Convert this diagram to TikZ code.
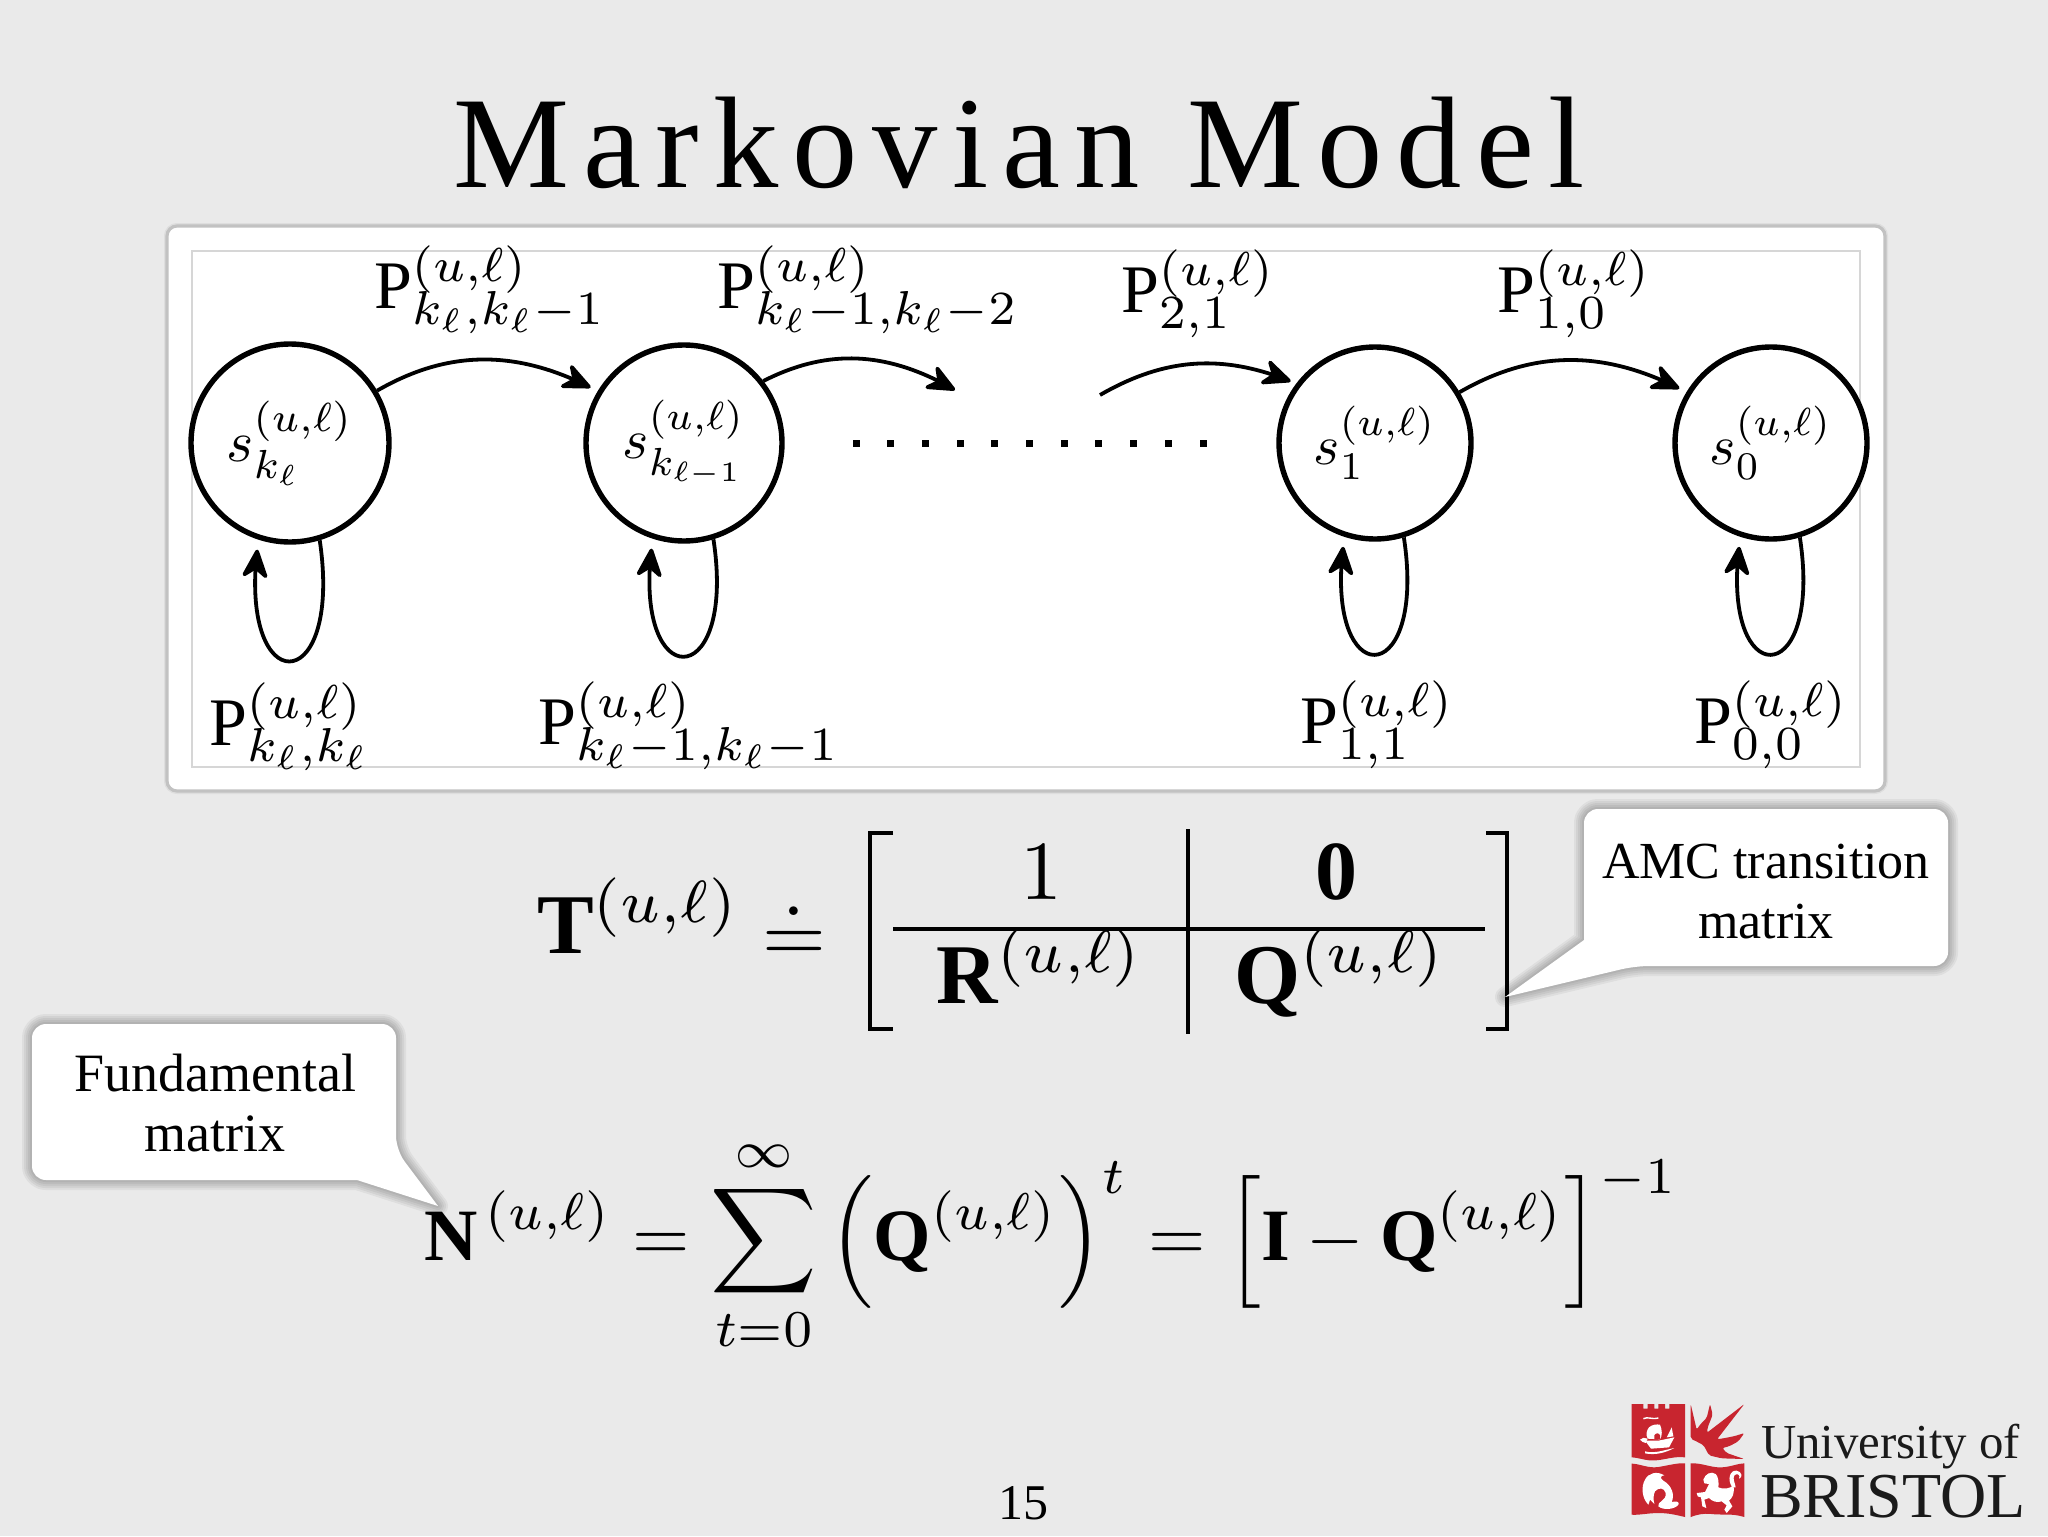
\documentclass[tikz,border=0pt]{standalone}
\usepackage{graphicx}
\usepackage{amsmath,amssymb}
\usepackage{fontspec}
\setmainfont{Liberation Serif}
\newfontfamily\titlefont[LetterSpace=11]{Liberation Serif}
\usetikzlibrary{arrows.meta,bending}
\newcommand\mth[2]{\scalebox{#1}{$#2$}}
\newcommand\ul{(u,\ell)}
\newcommand\pl[1]{\mathrm{P}^{\raisebox{0.3pt}[0pt][0pt]{$\scriptstyle\ul$}}_{\raisebox{0pt}[0pt][0pt]{$\scriptstyle #1$}}}
\definecolor{bgc}{HTML}{EAEAEA}
\definecolor{bris}{HTML}{C8252F}
\definecolor{ink}{HTML}{1A1A1A}
\tikzset{
  state/.style={circle,draw=black,fill=white,line width=2.7pt,minimum size=#1,inner sep=0pt},
  arc/.style={line width=1.9pt,-{Stealth[length=17pt,width=15pt,inset=5.5pt,round]}},
  lab/.style={anchor=base west,inner sep=0pt,outer sep=0pt},
  brk/.style={line width=1.7pt,line cap=butt},
  calltext/.style={align=center,inner sep=0pt,font=\fontsize{26}{30}\selectfont},
  softsh/.style={draw=black,opacity=.05,line join=round},
  wh/.style={fill=white,draw=none},
  red/.style={fill=bris,draw=none},
}
\newcommand\softshadow[1]{\foreach \w in {2,4,6,8,10}{\draw[softsh,line width=\w pt] #1;}}
\begin{document}
\begin{tikzpicture}[x=0.5pt,y=-0.5pt]
\useasboundingbox[fill=bgc] (0,0) rectangle (2048,1536);
% title
\node[anchor=base,inner sep=0pt] (title) at (1019,187) {\titlefont\fontsize{65.2}{70}\selectfont Markovian Model};
% panel
\draw[softsh,line width=3pt,rounded corners=5pt] (167,226) rectangle (1885,791);
\draw[fill=white,draw=black!24,line width=1.6pt,rounded corners=5pt] (167,226) rectangle (1885,791);
\draw[draw=black!16,line width=.8pt] (192,251) rectangle (1860,767);
% states
\node[state=99pt] (c1) at (290,443) {\mth{2.9}{s^{\ul}_{k_\ell}}};
\node[state=98pt] (c2) at (684,443) {\mth{2.8}{s^{\ul}_{k_{\ell-1}}}};
\node[state=96pt] (c3) at (1375,443) {\mth{2.8}{s^{\ul}_{1}}};
\node[state=96pt] (c4) at (1771,443) {\mth{2.8}{s^{\ul}_{0}}};
\coordinate (d1) at (955,390);
\coordinate (d2) at (1100,395);
% arcs
\draw[arc,shorten >=4pt] (c1.31) to[out=30,in=152] (c2.149);
\draw[arc] (c2.38) to[out=27,in=150] (d1);
\draw[arc,shorten >=3pt] (d2) to[out=30,in=157] (c3.143);
\draw[arc,shorten >=4pt] (c3.31) to[out=30,in=152] (c4.149);
% self loops
\foreach \n/\d in {c1/162,c2/157,c3/157,c4/157}{
  \draw[arc,shorten >=5pt] (\n.-73) .. controls +(24,\d) and +(-24,\d) .. (\n.-108);
}
% labels
\node[lab] (l1) at (374,308) {\mth{3.4}{\pl{k_\ell,k_\ell-1}}};
\node[lab] (l2) at (717,308) {\mth{3.4}{\pl{k_\ell-1,k_\ell-2}}};
\node[lab] (l3) at (1121,312) {\mth{3.4}{\pl{2,1}}};
\node[lab] (l4) at (1497,312) {\mth{3.4}{\pl{1,0}}};
\node[lab] (l5) at (209,745) {\mth{3.4}{\pl{k_\ell,k_\ell}}};
\node[lab] (l6) at (538,744) {\mth{3.4}{\pl{k_\ell-1,k_\ell-1}}};
\node[lab] (l7) at (1300,743) {\mth{3.4}{\pl{1,1}}};
\node[lab] (l8) at (1694,743) {\mth{3.4}{\pl{0,0}}};
% dots
\foreach \i in {0,...,10}{
  \fill ({856+34.7*\i-3.5},439.5) rectangle +(7,7);
}
% T equation
\node[lab] (T) at (537,953) {\mth{4.25}{\mathbf{T}^{\ul}}};
\node[inner sep=0pt] (dq) at (794,930) {\mth{4.1}{\doteq}};
\draw[brk] (893,833) -- (870,833) -- (870,1029) -- (893,1029);
\draw[brk] (1486,833) -- (1507,833) -- (1507,1029) -- (1486,1029);
\draw[brk] (1188,829) -- (1188,1034);
\draw[brk] (893,929) -- (1485,929);
\node[inner sep=0pt] (one) at (1041,872) {\mth{4.2}{1}};
\node[inner sep=0pt] (zero) at (1336,872) {\mth{4.2}{\mathbf{0}}};
\node[lab] (R) at (936,1003) {\mth{4.25}{\mathbf{R}^{\ul}}};
\node[lab] (Q) at (1234,1003) {\mth{4.25}{\mathbf{Q}^{\ul}}};
% N equation
\node[lab] (N) at (424,1260) {\mth{3.69}{\displaystyle\mathbf{N}\mkern2mu^{\ul}=\sum_{t=0}^{\infty}\left(\mathbf{Q}^{\ul}\right)^{t}=\left[\mathbf{I}-\mathbf{Q}^{\ul}\right]^{-1}}};
% callouts
\softshadow{[rounded corners=7pt] (1584,809) -- (1948,809) -- (1948,966) -- (1635,966) [sharp corners] -- (1505,997) -- (1584,940) [rounded corners=7pt] -- cycle}
\fill[white,rounded corners=7pt] (1584,809) -- (1948,809) -- (1948,966) -- (1635,966) [sharp corners] -- (1505,997) -- (1584,940) [rounded corners=7pt] -- cycle;
\node[calltext,anchor=base] (amc) at (1766,938) {AMC transition\\matrix};
\softshadow{[rounded corners=7pt] (32,1024) -- (396,1024) -- (396,1150) [sharp corners] -- (438,1206) -- (357,1180) [rounded corners=7pt] -- (32,1180) -- cycle}
\fill[white,rounded corners=7pt] (32,1024) -- (396,1024) -- (396,1150) [sharp corners] -- (438,1206) -- (357,1180) [rounded corners=7pt] -- (32,1180) -- cycle;
\node[calltext,anchor=base,font=\fontsize{27}{30}\selectfont] (fund) at (215,1151) {Fundamental\\matrix};
% page number
\node[anchor=base,inner sep=0pt] (pg) at (1023,1519) {\fontsize{25}{27}\selectfont 15};
% logo text
\node[lab,text=ink] (uni) at (1761,1458) {\fontsize{24.4}{26}\selectfont University of};
\node[lab,text=ink] (bri) at (1760,1517) {\fontsize{32}{34}\selectfont BRISTOL};
% logo crest
\begin{scope}[shift={(1625,1398)},x=0.16667pt,y=-0.16667pt]
  \fill[red] (20,18) -- (55,18) -- (55,32) -- (68,32) -- (68,18) -- (88,18) -- (88,32) -- (100,32) -- (100,18) -- (120,18) -- (120,32) -- (133,32) -- (133,18) -- (180,18) -- (180,178) .. controls (140,172) and (100,195) .. (60,185) .. controls (45,182) and (30,178) .. (20,178) -- cycle;
  \fill[red] (20,197) .. controls (40,196) and (70,212) .. (100,207) .. controls (130,202) and (160,194) .. (180,196) -- (180,357) .. controls (150,350) and (130,345) .. (100,345) .. controls (70,345) and (40,352) .. (20,350) -- cycle;
  \fill[red] (197,196) .. controls (230,194) and (260,210) .. (290,208) .. controls (320,206) and (340,196) .. (358,196) -- (358,357) .. controls (320,345) and (290,352) .. (260,348) .. controls (235,345) and (215,350) .. (197,357) -- cycle;
  \fill[red,rounded corners=1pt] (197,18) -- (215,95) -- (225,80) -- (245,60) -- (255,18) -- (263,50) -- (248,88) -- (246,104) -- (358,18) -- (276,124) -- (300,120) -- (330,114) -- (358,105) -- (340,130) -- (312,145) -- (292,150) -- (305,165) -- (358,183) -- (290,181) -- (252,172) -- (236,142) -- (218,132) -- (197,122) -- cycle;
  % ship
  \fill[wh] (60,128) -- (100,128) -- (148,118) -- (132,148) -- (78,152) -- cycle;
  \fill[wh] (72,88) .. controls (80,80) and (95,78) .. (105,80) .. controls (112,95) and (112,115) .. (105,124) -- (68,122) .. controls (62,110) and (64,98) .. (72,88) -- cycle;
  \fill[wh] (125,118) -- (140,88) -- (145,115) -- cycle;
  \fill[wh] (60,160) .. controls (90,168) and (120,155) .. (148,150) .. controls (120,165) and (90,172) .. (60,166) -- cycle;
  \fill[wh] (45,125) .. controls (50,118) and (60,118) .. (68,122) -- (62,135) .. controls (55,132) and (50,132) .. (45,125) -- cycle;
  \draw[white,line width=.7pt] (55,62) .. controls (70,55) and (78,65) .. (100,60);
  \fill[red] (88,112) .. controls (92,104) and (102,104) .. (105,112) -- (105,124) -- (88,124) -- cycle;
  % dolphin
  \fill[wh] (60,245) .. controls (70,225) and (95,218) .. (118,232) .. controls (105,232) and (105,242) .. (115,248) .. controls (140,262) and (150,290) .. (140,312) .. controls (155,308) and (165,312) .. (160,320) .. controls (150,334) and (115,338) .. (100,325) .. controls (95,310) and (125,310) .. (122,285) .. controls (118,268) and (100,268) .. (90,280) .. controls (84,292) and (85,305) .. (88,318) -- (75,305) -- (70,320) .. controls (50,300) and (48,265) .. (60,245) -- cycle;
  % horse
  \fill[wh] (235,245) .. controls (240,228) and (258,218) .. (272,228) .. controls (280,235) and (282,255) .. (280,268) .. controls (295,275) and (315,272) .. (325,262) .. controls (330,285) and (322,300) .. (312,308) -- (322,325) -- (305,345) -- (298,335) -- (305,322) -- (290,310) .. controls (275,315) and (262,310) .. (252,300) -- (238,305) -- (244,330) -- (232,325) -- (228,298) -- (218,295) -- (215,285) -- (240,282) -- (252,258) -- (238,256) -- cycle;
  \fill[wh] (322,268) .. controls (305,245) and (315,215) .. (335,218) .. controls (350,220) and (355,238) .. (342,242) .. controls (348,230) and (335,224) .. (328,232) .. controls (322,242) and (330,255) .. (332,268) -- cycle;
\end{scope}
\end{tikzpicture}
\end{document}
